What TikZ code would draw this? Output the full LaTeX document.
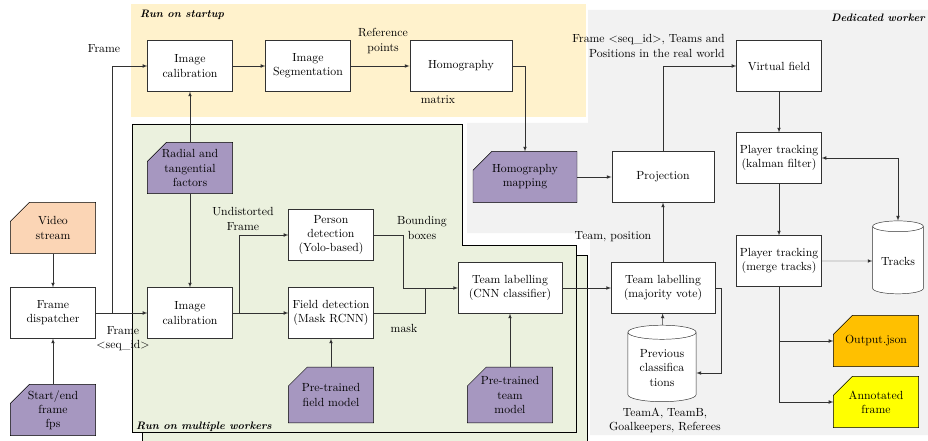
\documentclass[tikz,border=0pt]{standalone}
\usetikzlibrary{positioning, arrows, shapes.geometric}

\definecolor{startupbg}{RGB}{255,242,204}
\definecolor{workerbg}{RGB}{235,241,222}
\definecolor{dedicatedbg}{RGB}{242,242,242}
\definecolor{paramfill}{RGB}{166,151,192}
\definecolor{inputfill}{RGB}{251,213,181}
\definecolor{jsonfill}{RGB}{255,192,0}
\definecolor{framefill}{RGB}{255,255,0}
\definecolor{edge}{RGB}{50,50,50}

\pgfdeclarelayer{regions}
\pgfdeclarelayer{cards}
\pgfsetlayers{regions,cards,main}

% outline with the cut top left corner, drawn behind a named node
\newcommand{\cardshape}[2]{%
	\draw[fill=#2] (#1.south west) -- ([yshift=-16pt]#1.north west) -- ([xshift=16pt]#1.north west)
		-- (#1.north east) -- (#1.south east) -- cycle;}

\begin{document}
\begin{tikzpicture}[x=0.85pt, y=-0.85pt, >=latex, line width=0.7pt, draw=edge,
	proc/.style = {draw=edge, fill=white, minimum width=72pt, minimum height=43pt, align=center, inner sep=1pt},
	param/.style = {proc, draw=none, fill=none},
	store/.style = {draw=edge, fill=white, cylinder, shape border rotate=90, aspect=0.3, align=center, inner sep=1pt},
	lbl/.style = {align=center, inner sep=0pt},
	title/.style = {font=\fontsize{9.2}{11}\selectfont\bfseries\itshape, inner sep=0pt}]
	\useasboundingbox (0,0) rectangle (928,441);

	% background regions
	\begin{pgfonlayer}{regions}
	\fill[dedicatedbg] (588,10) -- (928,10) -- (928,435) -- (590,435) -- (590,233) -- (467,233) -- (467,123) -- (588,123) -- cycle;
	\fill[startupbg] (131,4) rectangle (586,117);
	\fill[workerbg] (142,255) -- (587,255) -- (587,441) -- (142,441) -- cycle;
	\draw (142,441) -- (142,255) -- (587,255) -- (587,441);
	\draw[fill=workerbg] (132,124) -- (462,124) -- (462,245) -- (576,245) -- (576,432) -- (132,432) -- cycle;
	\end{pgfonlayer}
	\node[title, anchor=west] (tstart) at (140,15) {Run on startup};
	\node[title, anchor=west] (twork) at (136,427) {Run on multiple workers};
	\node[title, anchor=east] (tded) at (925,18) {Dedicated worker};

	% input side
	\node[param] (video) at (53,228) {Video\\stream};
	\node[proc] (dispatch) at (53,313) {Frame\\dispatcher};
	\node[param] (startend) at (53,410) {Start/end\\frame\\fps};

	% startup
	\node[proc] (calibtop) at (190,66) {Image\\calibration};
	\node[proc] (segment) at (308,66) {Image\\Segmentation};
	\node[proc, minimum width=87pt] (homog) at (461,66) {Homography};

	% workers
	\node[param] (radial) at (190,168) {Radial and\\tangential\\factors};
	\node[proc] (calib) at (190,313) {Image\\calibration};
	\node[proc] (person) at (331,235) {Person\\detection\\(Yolo-based)};
	\node[proc] (field) at (331,313) {Field detection\\(Mask RCNN)};
	\node[param, minimum height=47pt] (fieldmodel) at (331,395) {Pre-trained\\field model};
	\node[proc, minimum width=88pt] (cnn) at (510,288) {Team labelling\\(CNN classifier)};
	\node[param, minimum height=47pt] (teammodel) at (510,395) {Pre-trained\\team\\model};

	% dedicated worker
	\node[param, minimum width=88pt] (hmap) at (525,177) {Homography\\mapping};
	\node[proc, minimum width=87pt] (proj) at (663,177) {Projection};
	\node[proc, minimum width=88pt] (major) at (663,288) {Team labelling\\(majority vote)};
	\node[store, minimum width=58pt, minimum height=65pt] (prev) at (662,368) {Previous\\classifica\\tions};
	\node[proc] (vfield) at (779,66) {Virtual field};
	\node[proc] (kalman) at (779,158) {Player tracking\\(kalman filter)};
	\node[proc] (merge) at (779,261) {Player tracking\\(merge tracks)};
	\node[store, minimum width=43pt, minimum height=62pt] (tracks) at (898,261) {Tracks};
	\node[param] (json) at (876,341) {Output.json};
	\node[param] (annot) at (876,402) {Annotated\\frame};

	\begin{pgfonlayer}{cards}
	\cardshape{video}{inputfill}
	\cardshape{startend}{paramfill}
	\cardshape{radial}{paramfill}
	\cardshape{fieldmodel}{paramfill}
	\cardshape{teammodel}{paramfill}
	\cardshape{hmap}{paramfill}
	\cardshape{json}{jsonfill}
	\cardshape{annot}{framefill}
	\end{pgfonlayer}

	% connector labels
	\node[lbl] (lframe) at (104,49) {Frame};
	\node[lbl] (lseq) at (123,339) {Frame\\<seq\_id>};
	\node[lbl] (lundist) at (243,219) {Undistorted\\Frame};
	\node[lbl] (lboxes) at (422,228) {Bounding\\boxes};
	\node[lbl] (lmask) at (404,328) {mask};
	\node[lbl] (lref) at (383,41) {Reference\\points};
	\node[lbl] (lmatrix) at (438,100) {matrix};
	\node[lbl, align=right, anchor=east] (lreal) at (725,46) {Frame <seq\_id>, Teams and\\Positions in the real world};
	\node[lbl] (lteam) at (613,237) {Team, position};
	\node[lbl] (lclasses) at (665,420) {TeamA, TeamB,\\Goalkeepers, Referees};

	\coordinate (split) at (112,313);
	\coordinate (undist) at (239,313);
	\coordinate (boxjoin) at (403,288);
	\coordinate (maskjoin) at (425,288);
	\coordinate (loop) at (721,373);

	\draw[->] (video) -- (dispatch);
	\draw[->] (startend) -- (dispatch);
	\draw[->] (dispatch) -- (calib);
	\draw[->] (split) |- (calibtop);
	\draw[->] (radial) -- (calibtop);
	\draw[->] (radial) -- (calib);
	\draw[->] (calibtop) -- (segment);
	\draw[->] (segment) -- (homog);
	\draw[->] (homog.east) -| (hmap.north);
	\draw[->] (calib) -- (field);
	\draw[->] (undist) |- (person);
	\draw[->] (person.east) -| (boxjoin) -- (cnn.west);
	\draw (field.east) -| (maskjoin);
	\draw[->] (fieldmodel) -- (field);
	\draw[->] (teammodel) -- (cnn);
	\draw[->] (cnn) -- (major);
	\draw[->] (hmap) -- (proj);
	\draw[->] (major) -- (proj);
	\draw[->] (prev) -- (major);
	\draw[->] (major.east) -| (loop) -- (loop -| prev.east);
	\draw[->] (proj.north) |- (vfield);
	\draw[->] (vfield) -- (kalman);
	\draw[->] (kalman) -- (merge);
	\draw[<->] (kalman.east) -| (tracks.north);
	\draw[->] (merge) -- (tracks);
	\draw[->] (merge.south) |- (json);
	\draw[->] (merge.south) |- (annot);
\end{tikzpicture}
\end{document}
